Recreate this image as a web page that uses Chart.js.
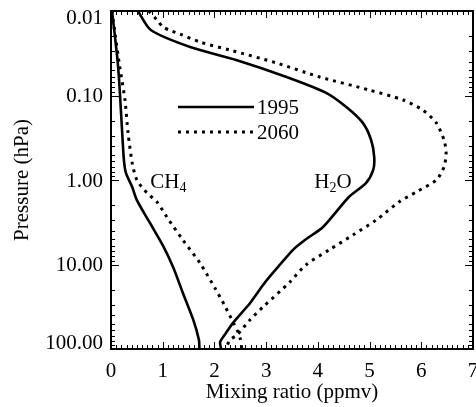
<!DOCTYPE html>
<html>
<head>
<meta charset="utf-8">
<script src="https://cdn.jsdelivr.net/npm/chart.js@4"></script>
<style>
  html, body { margin: 0; padding: 0; background: #fff; }
  #wrap { width: 476px; height: 407px; }
</style>
</head>
<body>
<div id="wrap"><canvas id="profile"></canvas></div>
<script>
// --- data (pressure in hPa, mixing ratio in ppmv) ---
const years = ['1995', '2060'];
const xTicks = [0, 1, 2, 3, 4, 5, 6, 7];
const yTicks = [0.01, 0.1, 1, 10, 100];

const ch4_1995_p = [0.01, 0.035, 0.071, 0.236, 0.58, 0.83, 1.21, 1.73, 3.2, 5.9, 10.7, 21.7, 45, 78, 100];
const ch4_1995_x = [0.02, 0.12, 0.16, 0.21, 0.25, 0.29, 0.41, 0.50, 0.75, 1.0, 1.2, 1.39, 1.59, 1.70, 1.71];

const ch4_2060_p = [0.01, 0.019, 0.046, 0.113, 0.278, 0.63, 1.0, 1.43, 1.82, 2.74, 5.13, 9.6, 19, 30, 48, 60, 76, 100];
const ch4_2060_x = [0.02, 0.08, 0.17, 0.27, 0.33, 0.41, 0.50, 0.70, 0.89, 1.08, 1.39, 1.72, 2.01, 2.19, 2.36, 2.44, 2.50, 2.53];

const h2o_1995_p = [0.01, 0.0168, 0.0267, 0.038, 0.060, 0.093, 0.137, 0.211, 0.336, 0.535, 0.76, 1.09, 1.59, 3.6, 5.13, 6.7, 14.1, 17.5, 28.6, 49, 65, 83, 100];
const h2o_1995_x = [0.52, 0.77, 1.53, 2.42, 3.38, 4.16, 4.55, 4.87, 5.03, 5.09, 5.07, 4.93, 4.60, 4.10, 3.75, 3.52, 3.06, 2.94, 2.69, 2.36, 2.22, 2.11, 2.13];

const h2o_2060_p = [0.01, 0.0128, 0.0155, 0.0173, 0.0187, 0.0233, 0.029, 0.041, 0.060, 0.086, 0.113, 0.149, 0.211, 0.336, 0.479, 0.70, 1.0, 1.39, 1.82, 2.97, 4.47, 6.7, 10.1, 16.1, 31.8, 45, 68, 78, 100];
const h2o_2060_x = [0.73, 0.89, 1.01, 1.18, 1.33, 1.72, 2.30, 3.19, 4.02, 4.99, 5.65, 6.03, 6.29, 6.44, 6.48, 6.44, 6.29, 5.90, 5.57, 5.13, 4.68, 4.22, 3.77, 3.46, 2.94, 2.69, 2.44, 2.30, 2.22];

const SERIF = "'Liberation Serif', 'Times New Roman', serif";
const DOTS = [3, 5];

function pts(xs, ps) {
    return xs.map((v, i) => ({ x: v, y: ps[i] }));
}

function profile(label, xs, ps, dashed) {
    return {
        label: label,
        data: pts(xs, ps),
        showLine: true,
        borderColor: '#000',
        borderWidth: dashed ? 3 : 2.6,
        borderDash: dashed ? DOTS : [],
        borderCapStyle: 'butt',
        pointRadius: 0,
        tension: 0.25,
        fill: false
    };
}

// text labels inside the plot, parts flagged true are subscripts
const species = [
    { parts: [['CH', false], ['4', true]], x: 0.76, p: 1.0 },
    { parts: [['H', false], ['2', true], ['O', false]], x: 3.93, p: 1.0 }
];

// --- box, inward ticks, y labels, species labels and legend ---
const decorations = {
    id: 'decorations',
    afterDatasetsDraw(chart) {
        const { ctx, chartArea: a, scales: { x, y } } = chart;
        ctx.save();
        ctx.strokeStyle = '#000';

        ctx.lineWidth = 1;
        ctx.beginPath();
        for (let i = 0; i <= 70; i++) {
            const px = Math.round(x.getPixelForValue(i / 10)) + 0.5;
            const len = i % 10 === 0 ? 7 : 4;
            ctx.moveTo(px, a.bottom); ctx.lineTo(px, a.bottom - len);
            ctx.moveTo(px, a.top); ctx.lineTo(px, a.top + len);
        }
        for (let e = -2; e < 2; e++) {
            for (let m = 1; m <= 10; m++) {
                const py = Math.round(y.getPixelForValue(m * Math.pow(10, e))) + 0.5;
                const len = (m === 1 || m === 10) ? 8 : 4;
                ctx.moveTo(a.left, py); ctx.lineTo(a.left + len, py);
                ctx.moveTo(a.right, py); ctx.lineTo(a.right - len, py);
            }
        }
        ctx.stroke();

        ctx.lineWidth = 2;
        ctx.strokeRect(a.left, a.top, a.right - a.left, a.bottom - a.top);

        ctx.fillStyle = '#000';

        // pressure labels, end ones kept inside the axis span
        ctx.font = '21px ' + SERIF;
        ctx.textAlign = 'right';
        ctx.textBaseline = 'middle';
        yTicks.forEach(v => {
            let py = y.getPixelForValue(v);
            py = Math.min(Math.max(py, a.top + 6), a.bottom - 7);
            ctx.fillText(v.toFixed(2), a.left - 8, py + 1);
        });

        // species names
        ctx.textBaseline = 'alphabetic';
        ctx.textAlign = 'left';
        species.forEach(s => {
            let cx = x.getPixelForValue(s.x);
            const base = y.getPixelForValue(s.p) + 8;
            s.parts.forEach(([t, sub]) => {
                ctx.font = (sub ? '14px ' : '21px ') + SERIF;
                ctx.fillText(t, cx, sub ? base + 4 : base);
                cx += ctx.measureText(t).width;
            });
        });

        // legend
        ctx.font = '21px ' + SERIF;
        ctx.textBaseline = 'middle';
        years.forEach((yr, i) => {
            const ly = 107 + i * 25;
            ctx.beginPath();
            ctx.lineWidth = i === 0 ? 2.6 : 3;
            ctx.setLineDash(i === 0 ? [] : DOTS);
            ctx.moveTo(178, ly);
            ctx.lineTo(254, ly);
            ctx.stroke();
            ctx.setLineDash([]);
            ctx.fillText(yr, 257, ly + 1);
        });
        ctx.restore();
    }
};

new Chart(document.getElementById('profile'), {
    type: 'scatter',
    data: {
        datasets: [
            profile('CH4 ' + years[0], ch4_1995_x, ch4_1995_p, false),
            profile('CH4 ' + years[1], ch4_2060_x, ch4_2060_p, true),
            profile('H2O ' + years[0], h2o_1995_x, h2o_1995_p, false),
            profile('H2O ' + years[1], h2o_2060_x, h2o_2060_p, true)
        ]
    },
    options: {
        responsive: true,
        maintainAspectRatio: false,
        animation: false,
        layout: { padding: { top: 11, right: 3, left: 0, bottom: 0 } },
        plugins: { legend: { display: false }, tooltip: { enabled: false } },
        scales: {
            x: {
                type: 'linear',
                min: 0, max: 7,
                grid: { display: false, drawTicks: false },
                border: { display: false },
                afterBuildTicks: s => { s.ticks = xTicks.map(v => ({ value: v })); },
                afterFit: s => { s.height = 58; s.paddingLeft = 0; s.paddingRight = 0; },
                ticks: {
                    color: '#000', padding: 10, maxRotation: 0,
                    font: { family: SERIF, size: 21 }
                },
                title: {
                    display: true, text: 'Mixing ratio (ppmv)', color: '#000',
                    padding: { top: 0, bottom: 2 },
                    font: { family: SERIF, size: 21 }
                }
            },
            y: {
                type: 'logarithmic',
                reverse: true,
                min: 0.01, max: 100,
                grid: { display: false, drawTicks: false },
                border: { display: false },
                afterBuildTicks: s => { s.ticks = yTicks.map(v => ({ value: v })); },
                afterFit: s => { s.width = 111; s.paddingTop = 0; s.paddingBottom = 0; },
                ticks: { display: false },
                title: {
                    display: true, text: 'Pressure (hPa)', color: '#000',
                    padding: { top: 10, bottom: 0 },
                    font: { family: SERIF, size: 21 }
                }
            }
        }
    },
    plugins: [decorations]
});
</script>
</body>
</html>
